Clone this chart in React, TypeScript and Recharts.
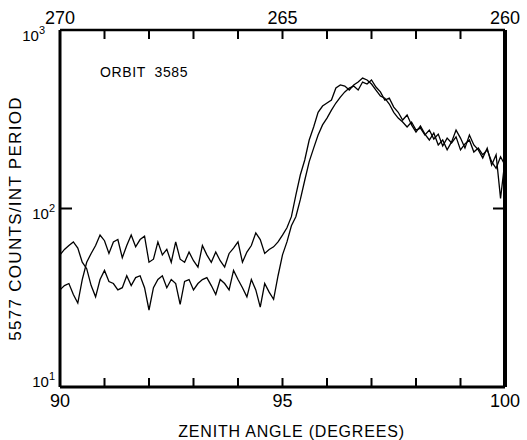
import React from 'react';
import { LineChart, Line, XAxis, YAxis, Label, ReferenceLine } from 'recharts';

// zenith angle, degrees (0.1 deg steps)
const angles = [
  90.0, 90.1, 90.2, 90.3, 90.4, 90.5, 90.6, 90.7, 90.8, 90.9,
  91.0, 91.1, 91.2, 91.3, 91.4, 91.5, 91.6, 91.7, 91.8, 91.9,
  92.0, 92.1, 92.2, 92.3, 92.4, 92.5, 92.6, 92.7, 92.8, 92.9,
  93.0, 93.1, 93.2, 93.3, 93.4, 93.5, 93.6, 93.7, 93.8, 93.9,
  94.0, 94.1, 94.2, 94.3, 94.4, 94.5, 94.6, 94.7, 94.8, 94.9,
  95.0, 95.1, 95.2, 95.3, 95.4, 95.5, 95.6, 95.7, 95.8, 95.9,
  96.0, 96.1, 96.2, 96.3, 96.4, 96.5, 96.6, 96.7, 96.8, 96.9,
  97.0, 97.1, 97.2, 97.3, 97.4, 97.5, 97.6, 97.7, 97.8, 97.9,
  98.0, 98.1, 98.2, 98.3, 98.4, 98.5, 98.6, 98.7, 98.8, 98.9,
  99.0, 99.1, 99.2, 99.3, 99.4, 99.5, 99.6, 99.7, 99.8, 99.9,
  100.0,
];

// 5577 counts per integration period, first scan
const countsA = [
  35, 37, 38, 33, 29.5, 40, 50, 56, 62, 71,
  66, 56, 65, 67, 53, 62, 71, 61, 67, 70,
  50, 52, 65, 55, 59, 50, 65, 52, 50, 57,
  51, 47, 62, 55, 50, 57, 51, 47, 56, 60,
  65, 50, 57, 62, 73, 67, 56, 59, 61, 65,
  71, 78, 90, 119, 154, 187, 242, 286, 346, 375,
  390, 405, 473, 492, 485, 461, 492, 511, 538, 525,
  498, 461, 427, 415, 385, 346, 321, 305, 286, 305,
  275, 282, 258, 275, 245, 261, 224, 248, 233, 252,
  213, 230, 242, 207, 218, 200, 213, 183, 168, 195,
  175,
];

// second scan
const countsB = [
  55, 59, 62, 65, 60, 50, 46, 37, 32, 40,
  45, 39, 38, 35, 36, 42, 37, 41, 42, 36,
  27, 36, 40, 42, 36, 40, 38, 29, 39, 40,
  35, 38, 40, 41, 37, 33, 40, 38, 35, 45,
  40, 36, 32, 40, 35, 28, 38, 34, 31, 42,
  55, 65, 80, 90, 112, 144, 183, 218, 258, 294,
  321, 356, 390, 421, 450, 473, 485, 461, 511, 498,
  525, 479, 450, 405, 415, 370, 346, 313, 334, 294,
  268, 290, 261, 242, 265, 227, 242, 213, 236, 275,
  248, 218, 258, 227, 213, 192, 218, 175, 200, 114,
  187,
];

const degreeTicks = [90, 91, 92, 93, 94, 95, 96, 97, 98, 99, 100];
const decadeTicks = [10, 100, 1000];

const FONT = '"Liberation Sans", Arial, sans-serif';
const INK = '#000';

const rows = angles.map((deg, i) => ({ deg, a: countsA[i], b: countsB[i] }));

// ticks point into the plot, as on the original frame
const BottomTick = ({ x, y, payload }: any) => (
  <g>
    <line x1={x} x2={x} y1={y} y2={y - 9} stroke={INK} strokeWidth={2} />
    {payload.value % 5 === 0 && (
      <text x={x} y={y + 20} textAnchor="middle" fontSize={18} fill={INK} fontFamily={FONT}>
        {payload.value}
      </text>
    )}
  </g>
);

const TopTick = ({ x, y, payload }: any) => (
  <g>
    <line x1={x} x2={x} y1={y} y2={y + 9} stroke={INK} strokeWidth={2} />
    {payload.value % 5 === 0 && (
      <text x={x} y={y - 6} textAnchor="middle" fontSize={18} fill={INK} fontFamily={FONT}>
        {360 - payload.value}
      </text>
    )}
  </g>
);

const LeftTick = ({ x, y, payload }: any) => {
  const v = payload.value;
  const exp = Math.round(Math.log10(v));
  const top = v >= 999;
  const mid = !top && v >= 99;
  const dy = top ? 11 : mid ? 10 : 0;
  return (
    <g>
      {mid && <line x1={x} x2={x + 12} y1={y} y2={y} stroke={INK} strokeWidth={2} />}
      <text x={top ? x - 15 : x - 5} y={y + dy} textAnchor="end" fontSize={15} fill={INK} fontFamily={FONT}>
        10
        <tspan fontSize={11} dy={-7}>{exp}</tspan>
      </text>
    </g>
  );
};

export default function App() {
  return (
    <div
      style={{
        position: 'absolute',
        left: 0,
        top: 0,
        width: 527,
        height: 440,
        background: '#fff',
        fontFamily: FONT,
      }}
    >
      <LineChart width={527} height={440} data={rows} margin={{ top: 0, right: 22, bottom: 0, left: 0 }}>
        <XAxis
          xAxisId="bottom"
          dataKey="deg"
          type="number"
          domain={[90, 100]}
          ticks={degreeTicks}
          interval={0}
          height={53}
          tickSize={0}
          tickMargin={0}
          tickLine={false}
          tick={BottomTick}
          axisLine={{ stroke: INK, strokeWidth: 3 }}
        >
          <Label
            content={({ viewBox }: any) => (
              <text
                x={viewBox.x + viewBox.width / 2 + 9}
                y={viewBox.y + viewBox.height - 3}
                textAnchor="middle"
                fontSize={16}
                letterSpacing={0.8}
                fill={INK}
                fontFamily={FONT}
              >
                ZENITH ANGLE (DEGREES)
              </text>
            )}
          />
        </XAxis>
        <XAxis
          xAxisId="top"
          dataKey="deg"
          type="number"
          domain={[90, 100]}
          ticks={degreeTicks}
          interval={0}
          orientation="top"
          height={30}
          tickSize={0}
          tickMargin={0}
          tickLine={false}
          tick={TopTick}
          axisLine={{ stroke: INK, strokeWidth: 2.5 }}
        />
        <YAxis
          yAxisId="left"
          type="number"
          scale="log"
          domain={[10, 1000]}
          ticks={decadeTicks}
          interval={0}
          width={60}
          tickSize={0}
          tickMargin={0}
          tickLine={false}
          tick={LeftTick}
          axisLine={{ stroke: INK, strokeWidth: 3 }}
        >
          <Label
            content={({ viewBox }: any) => {
              const cx = viewBox.x + 15;
              const cy = viewBox.y + viewBox.height / 2 + 10;
              return (
                <text
                  x={cx}
                  y={cy}
                  transform={`rotate(-90 ${cx} ${cy})`}
                  textAnchor="middle"
                  dominantBaseline="central"
                  fontSize={17}
                  letterSpacing={1.3}
                  fill={INK}
                  fontFamily={FONT}
                >
                  5577 COUNTS/INT PERIOD
                </text>
              );
            }}
          />
        </YAxis>
        {/* right frame with its inward decade tick */}
        <ReferenceLine xAxisId="bottom" yAxisId="left" x={100} stroke={INK} strokeWidth={4} />
        <ReferenceLine
          xAxisId="bottom"
          yAxisId="left"
          segment={[{ x: 99.73, y: 100 }, { x: 100, y: 100 }]}
          stroke={INK}
          strokeWidth={2}
        />
        <Line
          xAxisId="bottom"
          yAxisId="left"
          type="linear"
          dataKey="a"
          stroke={INK}
          strokeWidth={1.3}
          dot={false}
          isAnimationActive={false}
        />
        <Line
          xAxisId="bottom"
          yAxisId="left"
          type="linear"
          dataKey="b"
          stroke={INK}
          strokeWidth={1.3}
          dot={false}
          isAnimationActive={false}
        />
      </LineChart>
      <div
        style={{
          position: 'absolute',
          left: 100,
          top: 64,
          fontSize: 14,
          color: INK,
          letterSpacing: 0.6,
          whiteSpace: 'pre',
        }}
      >
        ORBIT  3585
      </div>
    </div>
  );
}
